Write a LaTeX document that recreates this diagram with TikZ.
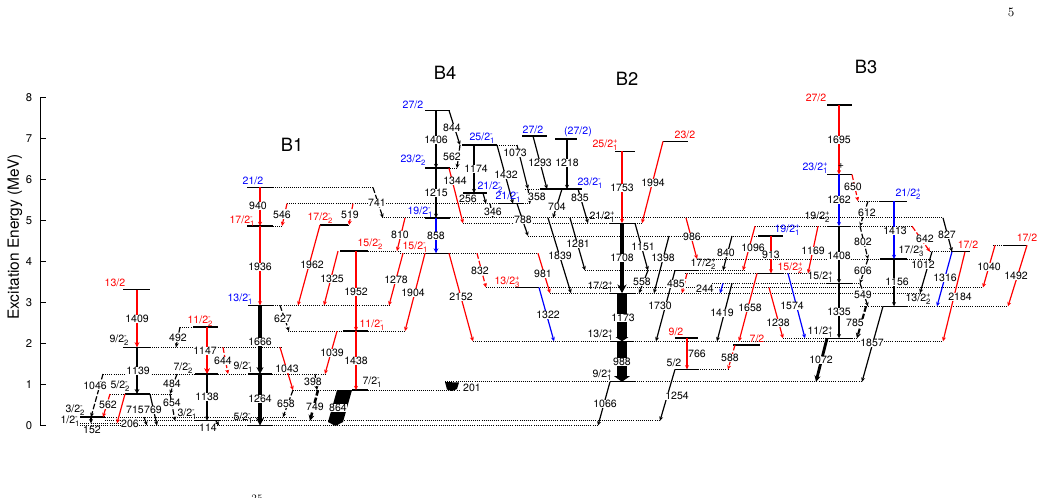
\documentclass[tikz,border=0pt]{standalone}
\usepackage{fontspec}
\usepackage{tikz}
\usetikzlibrary{arrows.meta}
\newfontfamily\hv{TeX Gyre Heros}
\newcommand{\lbf}{\hv\fontsize{7.5}{8}\selectfont}
%% spin label with parity and index
\newcommand{\jp}[3]{#1\rlap{\raisebox{3.2pt}{\fontsize{5.5}{6}\selectfont#2}}\raisebox{-1.8pt}{\fontsize{5.5}{6}\selectfont#3}}
%% level pieces: x1, x2, y
\newcommand{\lev}[3]{\draw[lvl] (#1,#3) -- (#2,#3);}
\newcommand{\dotl}[3]{\draw[ext] (#1,#3) -- (#2,#3);}
%% transition: top, bottom, energy, label position
\newcommand{\trans}[5][]{\draw[gam,#1] (#2) -- (#3);
  \node[glab] (g#4) at (#5) {#4};}
\tikzset{
  lvl/.style={line width=0.9pt},
  ext/.style={line width=0.6pt, dash pattern=on 0.6pt off 0.9pt},
  gam/.style={line width=0.85pt, -{Stealth[length=2pt 1.2, width=1.6pt 1.4]}},
  tent/.style={dash pattern=on 4pt off 1.5pt},
  glab/.style={font=\lbf, fill=white, inner sep=0.4pt},
  jlab/.style={font=\lbf, inner sep=0.5pt},
  band/.style={font=\hv\fontsize{13}{14}\selectfont}
}
\begin{document}
\begin{tikzpicture}[x=0.025cm, y=-0.025cm]
    \fill[white] (0,0) rectangle (1044,498);
    \useasboundingbox (0,0) rectangle (1044,498);

    %% axis
    \draw[line width=0.6pt] (40,97.5) -- (40,425.5);
    \foreach \k in {0,...,8} {
        \draw[line width=0.6pt] (40,{425.5-41*\k}) -- (46,{425.5-41*\k});
        \node[font=\hv\fontsize{8}{9}\selectfont, anchor=east] (ax\k) at (37,{425.5-41*\k}) {\k};
    }
    \node[rotate=90, font=\hv\fontsize{11}{12}\selectfont] (ytitle) at (15,237) {Excitation Energy (MeV)};
    \node[font=\fontsize{9}{10}\selectfont] (pnum) at (1011,12) {5};
    \node[anchor=north, inner sep=0pt, font=\fontsize{7}{8}\selectfont] (iso) at (257,495) {25};

    %% bands
    \node[band] (b1) at (292,145) {B1};
    \node[band] (b4) at (445,73) {B4};
    \node[band] (b2) at (627,79) {B2};
    \node[band] (b3) at (866,67) {B3};

    %% levels
    \dotl{80}{598}{425.5} \lev{248}{273}{425.5}
    \dotl{80}{130}{423.3}
    \dotl{105}{195}{420.8} \lev{195}{220}{420.8} \dotl{220}{660}{420.8}
    \lev{80}{105}{417.1} \dotl{105}{295}{417.1}
    \dotl{110}{125}{394} \lev{125}{150}{394} \dotl{150}{172}{394}
    \dotl{293}{337}{390.1} \lev{352}{368}{390.1} \dotl{368}{459}{390.1}
    \dotl{445}{610}{381.8} \lev{610}{635}{381.8} \dotl{635}{862}{381.8}
    \dotl{103}{195}{374} \lev{195}{218}{374} \dotl{218}{248}{374} \lev{248}{272}{374} \dotl{272}{325}{374}
    \lev{675}{698}{369.4} \dotl{698}{728}{369.4}
    \lev{123}{150}{347.3} \dotl{150}{282}{347.3}
    \lev{733}{760}{345}
    \dotl{473}{610}{341.3} \lev{610}{633}{341.3} \dotl{633}{943}{341.3}
    \lev{675}{698}{338}
    \dotl{783}{825}{338.3} \lev{825}{852}{338.3} \dotl{852}{858}{338.3}
    \dotl{288}{343}{331.1} \lev{343}{368}{331.1} \dotl{368}{405}{331.1}
    \dotl{180}{193}{327.1} \lev{193}{218}{327.1}
    \dotl{860}{883}{306.3} \lev{883}{907}{306.3} \dotl{907}{1008}{306.3}
    \lev{248}{273}{305.4} \dotl{273}{390}{305.4}
    \dotl{550}{610}{293.2} \lev{610}{635}{293.2} \dotl{635}{920}{293.2}
    \lev{123}{150}{289.5}
    \dotl{486}{515}{287.5} \lev{515}{538}{287.5} \dotl{538}{983}{287.5}
    \dotl{712}{827}{283.3} \lev{827}{852}{283.3} \dotl{852}{860}{283.3}
    \dotl{685}{758}{273.4} \lev{758}{783}{273.4} \dotl{783}{808}{273.4}
    \dotl{585}{675}{270.4} \lev{675}{698}{270.4} \dotl{698}{745}{270.4}
    \dotl{697}{880}{259} \lev{880}{907}{259} \dotl{907}{932}{259}
    \dotl{400}{425}{253.3} \lev{425}{450}{253.3} \dotl{450}{538}{253.3}
    \dotl{930}{952}{251.7} \lev{952}{970}{251.7}
    \lev{340}{368}{251.1} \dotl{368}{400}{251.1}
    \dotl{993}{1003}{245.3} \lev{1003}{1027}{245.3}
    \dotl{528}{758}{236} \lev{758}{783}{236}
    \dotl{755}{827}{226.2} \lev{827}{850}{226.2} \dotl{850}{912}{226.2}
    \lev{247}{273}{226} \dotl{273}{283}{226}
    \lev{320}{348}{225} \dotl{348}{350}{225}
    \dotl{463}{610}{223.2} \lev{610}{635}{223.2} \dotl{635}{642}{223.2}
    \dotl{382}{425}{217.9} \lev{425}{450}{217.9} \dotl{450}{943}{217.9}
    \dotl{287}{498}{203.6} \lev{498}{523}{203.6} \dotl{523}{531}{203.6}
    \dotl{858}{880}{201.2} \lev{880}{907}{201.2}
    \lev{463}{487}{193.1}
    \dotl{525}{540}{189} \lev{540}{582}{189}
    \lev{247}{273}{187.5} \dotl{273}{373}{187.5}
    \lev{827}{852}{174.5}
    \lev{425}{450}{168.1} \dotl{450}{458}{168.1}
    \lev{615}{635}{151.3}
    \lev{462}{497}{145} \dotl{497}{517}{145}
    \lev{663}{688}{141.4}
    \lev{555}{577}{139}
    \lev{522}{547}{136}
    \lev{425}{450}{110.4}
    \lev{827}{852}{105}

    %% low-spin negative parity
    \trans[red,line width=1.4pt]{137,289.5}{137,347.3}{1409}{137,319}
    \trans[line width=1.3pt]{137,347.3}{137,394}{1139}{138,371}
    \trans[tent]{103,374}{91,417.1}{1046}{95,386}
    \trans[red,tent]{110,394}{103,417.1}{562}{108,405}
    \trans[red]{125,394}{117,423.3}{715}{135,410}
    \trans{150,394}{157,425.5}{769}{153,410}
    \trans{144,417.1}{147,425.5}{206}{130,424}
    \trans{91,417.1}{91,423.3}{152}{92,430}
    \trans[tent]{177,374}{170,394}{484}{172,384}
    \trans[tent]{170,394}{175,420.8}{654}{172,403}
    \trans[tent]{180,327.1}{176,347.3}{492}{178,338}
    \trans[red,line width=1.8pt]{207,327.1}{207,374}{1147}{205,351}
    \trans[red,tent]{223,347.3}{228,374}{644}{223,361}
    \trans{207,374}{207,420.8}{1138}{207,397}
    \trans{216,420.8}{219,425.5}{114}{208,428}

    %% B1
    \trans[red]{260,187.5}{260,226}{940}{258,206}
    \trans[red]{260,226}{260,305.4}{1936}{260,267}
    \trans[line width=2.4pt]{260,305.4}{260,374}{1666}{260,342}
    \trans[line width=3pt]{260,374}{260,425.5}{1264}{260,399}
    \trans[red,tent]{287,203.6}{282,226}{546}{282,215}
    \trans[red,tent]{353,203.6}{349,225}{519}{350,215}
    \trans[tent]{373,187.5}{383,217.9}{741}{377,203}
    \trans[red]{320,225}{298,305.4}{1962}{312,265}
    \trans[red]{338,251.1}{324,305.4}{1325}{332,279}
    \trans[red]{356,251.1}{356,331.1}{1952}{356,292}
    \trans[red]{356,331.1}{356,390.1}{1438}{356,361}
    \trans[red]{405,217.9}{397,251.1}{810}{400,235}
    \trans[red]{403,253.3}{389,305.4}{1278}{396,280}
    \trans[red]{425,253.3}{405,331.1}{1904}{413,293}
    \trans[tent]{280,305.4}{289,331.1}{627}{283,319}
    \trans[red]{337,331.1}{325,374}{1039}{332,353}
    \trans[red]{280,347.3}{293,390.1}{1043}{287,369}
    \trans[tent]{315,374}{317,390.1}{398}{313,382}
    \trans[tent,line width=1.8pt]{318,390.1}{310,420.8}{749}{315,407}
    \trans[tent]{293,390.1}{283,417.1}{658}{286,404}
    \fill (337,390.1) -- (352,390.1) -- (343,422) -- (335.5,426) -- (328,422) -- cycle;
    \node[glab] (g864) at (338,408) {864};

    %% B4
    \trans{436,110.4}{436,168.1}{1406}{436,140}
    \trans{449,110.4}{460,145}{844}{452,128}
    \trans[tent]{460,145}{457,168.1}{562}{452,157}
    \trans{436,168.1}{436,217.9}{1215}{436,193}
    \trans[blue,line width=1.3pt]{436,217.9}{436,253.3}{858}{436,236}
    \trans[red]{449,168.1}{463,223.2}{1344}{455,181}
    \trans{474,145}{474,193.1}{1174}{476,169}
    \trans{483,193.1}{486,203.6}{256}{468,199}
    \trans{490,203.6}{493,217.9}{346}{493,212}
    \trans{497,145}{513,203.6}{1432}{506,175}
    \trans{517,145}{528,189}{1073}{515,153}
    \trans{528,189}{530,203.6}{358}{537,197}
    \trans{517,203.6}{528,236}{788}{523,220}
    \trans{533,136}{547,189}{1293}{540,163}
    \trans{567,139}{567,189}{1218}{567,163}
    \trans{562,189}{553,217.9}{704}{557,207}
    \trans{578,189}{588,223.2}{835}{580,198}
    \trans{570,217.9}{585,270.4}{1281}{578,244}
    \trans{548,217.9}{571,293.2}{1839}{560,256}
    \trans[red,tent]{477,253.3}{486,287.5}{832}{480,271}
    \trans[red]{538,253.3}{550,293.2}{981}{543,274}
    \trans[blue]{539,287.5}{554,341.3}{1322}{548,315}
    \trans[red]{449,253.3}{473,341.3}{2152}{461,297}
    \fill (445,382) -- (459,382.5) -- (457,389) -- (452,391) -- (447,389.5) -- cycle;
    \node[glab] (g201) at (472,388) {201};

    %% B2
    \trans[red]{622,151.3}{622,223.2}{1753}{622,188}
    \trans[red]{663,141.4}{642,223.2}{1994}{653,183}
    \trans[line width=3.5pt]{622,223.2}{622,293.2}{1708}{622,258}
    \trans{635,223.2}{648,270.4}{1151}{643,247}
    \trans{648,270.4}{639,293.2}{558}{642,282}
    \trans{669,236}{654,293.2}{1398}{663,258}
    \trans[red]{686,217.9}{697,259}{986}{692,237}
    \trans{675,270.4}{656,341.3}{1730}{660,306}
    \trans[red,tent]{687,273.4}{682,293.2}{485}{676,284}
    \trans[blue]{723,283.3}{720,293.2}{244}{705,289}
    \trans{732,236}{723,270.4}{840}{726,253}
    \trans[red]{755,226.2}{743,270.4}{1096}{753,248}
    \trans{732,283.3}{717,341.3}{1419}{722,313}
    \trans[red]{757,273.4}{739,341.3}{1658}{750,308}
    \trans[line width=7pt,-{Triangle[length=3pt,width=9pt]}]{622,293.2}{622,341.3}{1173}{623,318}
    \trans[line width=7pt,-{Triangle[length=4pt,width=11pt]}]{622,341.3}{622,381.8}{988}{622,362}
    \trans{610,381.8}{598,425.5}{1066}{605,404}
    \trans[red]{687,338}{687,369.4}{766}{697,354}
    \trans{675,369.4}{660,420.8}{1254}{677,396}
    \trans[red,tent]{735,345}{728,369.4}{588}{730,358}

    %% B3
    \trans[red]{839,105}{839,174.5}{1695}{839,140}
    \trans[blue]{839,174.5}{839,226.2}{1262}{839,200}
    \trans[red,tent]{852,174.5}{858,201.2}{650}{853,187}
    \trans[tent]{868,201.2}{860,226.2}{612}{867,213}
    \trans[tent]{860,226.2}{868,259}{802}{863,242}
    \trans[tent]{868,259}{860,283.3}{606}{863,271}
    \trans[tent]{860,283.3}{868,306.3}{549}{863,295}
    \trans{839,226.2}{839,283.3}{1408}{839,256}
    \trans{839,283.3}{839,338.3}{1335}{839,312}
    \trans[red]{771,236}{771,273.4}{913}{771,255}
    \trans[red]{818,226.2}{808,273.4}{1169}{813,251}
    \trans[blue]{788,273.4}{805,338.3}{1574}{792,306}
    \trans[red]{769,287.5}{783,338.3}{1238}{778,323}
    \trans[tent,line width=1.5pt]{866,306.3}{857,338.3}{785}{855,323}
    \trans[line width=2pt]{827,338.3}{816,381.8}{1072}{821,360}
    \trans{883,306.3}{862,381.8}{1857}{872,343}
    \trans[blue]{894,201.2}{894,259}{1413}{895,231}
    \trans{894,259}{894,306.3}{1156}{897,282}
    \trans[red,tent]{912,226.2}{930,251.7}{642}{925,239}
    \trans{932,251.7}{920,293.2}{1012}{923,265}
    \trans{943,217.9}{952,251.7}{827}{947,235}
    \trans[blue]{952,251.7}{937,306.3}{1316}{945,278}
    \trans[red]{965,251.7}{943,341.3}{2184}{960,297}
    \trans[red]{995,245.3}{983,287.5}{1040}{989,267}
    \trans[red]{1027,245.3}{1008,306.3}{1492}{1016,276}

    %% spin labels
    \node[jlab,red] (j13a) at (115,283) {13/2};
    \node[jlab] (j9b) at (119,340) {\jp{9/2}{-}{2}};
    \node[jlab] (j5b) at (120,386) {\jp{5/2}{-}{2}};
    \node[jlab] (j3b) at (75,410) {\jp{3/2}{-}{2}};
    \node[jlab] (j1a) at (70,421) {\jp{1/2}{-}{1}};
    \node[jlab] (j7b) at (183,368) {\jp{7/2}{-}{2}};
    \node[jlab,red] (j11b) at (200,321) {\jp{11/2}{-}{2}};
    \node[jlab] (j3a) at (187,414) {\jp{3/2}{-}{1}};
    \node[jlab] (j9a) at (243,367) {\jp{9/2}{-}{1}};
    \node[jlab] (j5a) at (243,418) {\jp{5/2}{-}{1}};
    \node[jlab,blue] (j13b) at (240,299) {\jp{13/2}{-}{1}};
    \node[jlab,red] (j17a) at (242,221) {\jp{17/2}{-}{1}};
    \node[jlab,blue] (j21a) at (253,181) {21/2};
    \node[jlab,red] (j17b) at (320,218) {\jp{17/2}{-}{2}};
    \node[jlab,red] (j15b) at (370,244) {\jp{15/2}{-}{2}};
    \node[jlab,red] (j11a) at (372,325) {\jp{11/2}{-}{1}};
    \node[jlab] (j7a) at (372,382) {\jp{7/2}{-}{1}};
    \node[jlab,blue] (j27a) at (413,105) {27/2};
    \node[jlab,blue] (j23b) at (413,160) {\jp{23/2}{-}{2}};
    \node[jlab,blue] (j19a) at (420,212) {\jp{19/2}{-}{1}};
    \node[jlab,red] (j15a) at (415,247) {\jp{15/2}{-}{1}};
    \node[jlab,blue] (j25a) at (482,138) {\jp{25/2}{-}{1}};
    \node[jlab,blue] (j21c) at (490,187) {\jp{21/2}{-}{2}};
    \node[jlab,blue] (j21b) at (508,197) {\jp{21/2}{-}{1}};
    \node[jlab,blue] (j27b) at (533,130) {27/2};
    \node[jlab,blue] (j27c) at (578,132) {(27/2)};
    \node[jlab,blue] (j23a) at (590,183) {\jp{23/2}{-}{1}};
    \node[jlab,red] (j25p) at (605,145) {\jp{25/2}{+}{1}};
    \node[jlab,red] (j23p) at (685,135) {23/2};
    \node[jlab] (j21p) at (602,217) {\jp{21/2}{+}{1}};
    \node[jlab] (j17q) at (703,264) {\jp{17/2}{+}{2}};
    \node[jlab] (j17p) at (600,287) {\jp{17/2}{+}{1}};
    \node[jlab,red] (j13r) at (507,282) {\jp{13/2}{+}{3}};
    \node[jlab] (j13p) at (600,335) {\jp{13/2}{+}{1}};
    \node[jlab,red] (j9p) at (676,332) {9/2};
    \node[jlab] (j5p) at (674,363) {5/2};
    \node[jlab] (j9q) at (602,375) {\jp{9/2}{+}{1}};
    \node[jlab,red] (j7p) at (757,339) {7/2};
    \node[jlab,blue] (j19p) at (787,230) {\jp{19/2}{+}{1}};
    \node[jlab,red] (j15q) at (790,268) {\jp{15/2}{+}{2}};
    \node[jlab] (j19q) at (817,217) {\jp{19/2}{+}{2}};
    \node[jlab] (j15p) at (820,277) {\jp{15/2}{+}{1}};
    \node[jlab] (j11p) at (820,332) {\jp{11/2}{+}{1}};
    \node[jlab,blue] (j23q) at (815,168) {\jp{23/2}{+}{1}};
    \node[jlab] (jmark) at (841,166) {+};
    \node[jlab,red] (j27p) at (816,98) {27/2};
    \node[jlab,blue] (j21q) at (908,194) {\jp{21/2}{+}{2}};
    \node[jlab] (j17r) at (911,251) {\jp{17/2}{+}{3}};
    \node[jlab] (j13q) at (918,299) {\jp{13/2}{+}{2}};
    \node[jlab,red] (j17s) at (968,245) {17/2};
    \node[jlab,red] (j17t) at (1027,238) {17/2};
\end{tikzpicture}
\end{document}
